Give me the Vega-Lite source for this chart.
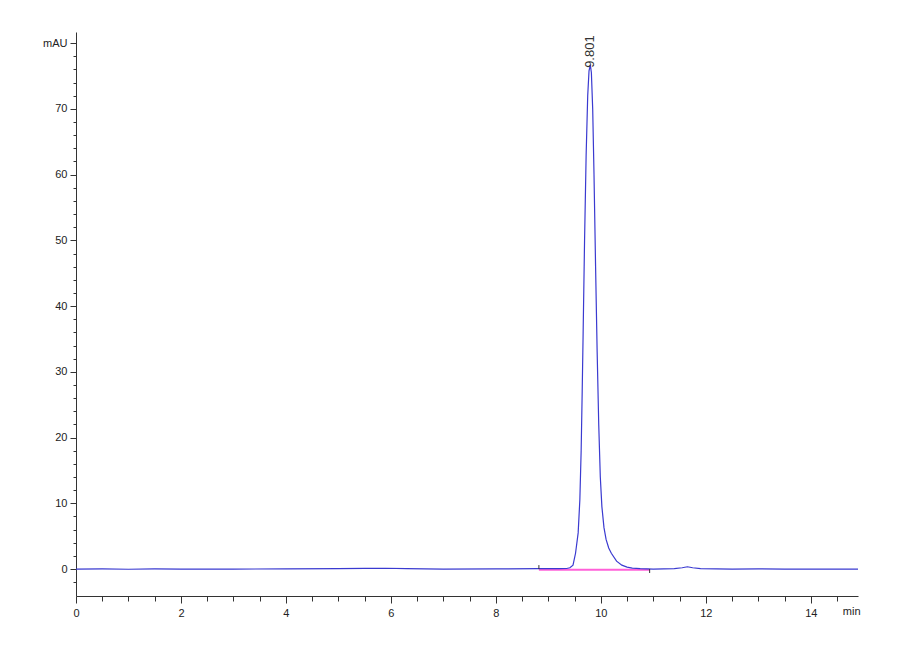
{
  "$schema": "https://vega.github.io/schema/vega-lite/v6.json",
  "description": "HPLC chromatogram with a single peak at 9.801 min.",
  "width": 782,
  "height": 564,
  "autosize": {"type": "none"},
  "padding": {"left": 76, "top": 32, "right": 42, "bottom": 64},
  "background": "white",
  "config": {
    "view": {"stroke": null},
    "axis": {
      "labelFont": "Liberation Sans",
      "labelFontSize": 11,
      "labelColor": "#222222",
      "domainColor": "#333333",
      "tickColor": "#333333",
      "grid": false,
      "title": null,
      "labelOverlap": false,
      "labelFlush": false
    }
  },
  "datasets": {
    "trace": [
      {"t": 0, "v": 0}, {"t": 0.5, "v": 0.02}, {"t": 1, "v": -0.03}, {"t": 1.5, "v": 0.02},
      {"t": 2, "v": 0}, {"t": 3, "v": 0}, {"t": 4, "v": 0.02}, {"t": 5, "v": 0.05},
      {"t": 5.5, "v": 0.1}, {"t": 5.9, "v": 0.12}, {"t": 6.3, "v": 0.05}, {"t": 7, "v": 0},
      {"t": 8, "v": 0.02}, {"t": 8.8, "v": 0.05}, {"t": 9.2, "v": 0.05}, {"t": 9.35, "v": 0.08},
      {"t": 9.41, "v": 0.2}, {"t": 9.47, "v": 0.6}, {"t": 9.518, "v": 2.4}, {"t": 9.568, "v": 5.5},
      {"t": 9.6, "v": 10.5}, {"t": 9.625, "v": 18}, {"t": 9.645, "v": 27}, {"t": 9.663, "v": 36},
      {"t": 9.69, "v": 50}, {"t": 9.72, "v": 63}, {"t": 9.75, "v": 72}, {"t": 9.775, "v": 75.8},
      {"t": 9.8, "v": 76.7}, {"t": 9.82, "v": 75.5}, {"t": 9.845, "v": 70}, {"t": 9.87, "v": 60},
      {"t": 9.9, "v": 46}, {"t": 9.93, "v": 33}, {"t": 9.96, "v": 22}, {"t": 9.99, "v": 14},
      {"t": 10.02, "v": 9.5}, {"t": 10.06, "v": 6.3}, {"t": 10.1, "v": 4.5}, {"t": 10.15, "v": 3.2},
      {"t": 10.2, "v": 2.4}, {"t": 10.3, "v": 1.2}, {"t": 10.4, "v": 0.6}, {"t": 10.5, "v": 0.3},
      {"t": 10.6, "v": 0.15}, {"t": 10.75, "v": 0.05}, {"t": 11, "v": 0}, {"t": 11.4, "v": 0.05},
      {"t": 11.55, "v": 0.2}, {"t": 11.65, "v": 0.35}, {"t": 11.75, "v": 0.2}, {"t": 11.9, "v": 0.05},
      {"t": 12.5, "v": 0}, {"t": 13, "v": 0.02}, {"t": 13.5, "v": 0}, {"t": 14, "v": 0}, {"t": 14.9, "v": 0}
    ],
    "baseline": [
      {"t": 8.82, "v": -0.1}, {"t": 10.93, "v": -0.1}
    ],
    "events": [
      {"t": 8.82, "v": 0, "v2": 0.6}, {"t": 10.93, "v": 0, "v2": -0.6}
    ],
    "peaks": [
      {"t": 9.801, "v": 76.7, "label": "9.801"}
    ]
  },
  "encoding": {
    "x": {
      "field": "t",
      "type": "quantitative",
      "scale": {"domain": [0, 14.9], "nice": false, "zero": false},
      "axis": {
        "orient": "bottom",
        "values": [0, 0.5, 1, 1.5, 2, 2.5, 3, 3.5, 4, 4.5, 5, 5.5, 6, 6.5, 7, 7.5, 8, 8.5, 9, 9.5, 10, 10.5, 11, 11.5, 12, 12.5, 13, 13.5, 14, 14.5, 14.77],
        "labelExpr": "datum.value > 14.6 ? 'min' : (datum.value % 2 === 0 ? format(datum.value, 'd') : '')",
        "tickSize": {"condition": {"test": "datum.value % 2 === 0", "value": 7}, "value": 5},
        "tickOpacity": {"condition": {"test": "datum.value > 14.6", "value": 0}, "value": 1},
        "labelPadding": 4
      }
    },
    "y": {
      "field": "v",
      "type": "quantitative",
      "scale": {"domain": [-4.1, 81.7], "nice": false, "zero": false},
      "axis": {
        "orient": "left",
        "values": [-2, 0, 2, 4, 6, 8, 10, 12, 14, 16, 18, 20, 22, 24, 26, 28, 30, 32, 34, 36, 38, 40, 42, 44, 46, 48, 50, 52, 54, 56, 58, 60, 62, 64, 66, 68, 70, 72, 74, 76, 78, 80],
        "labelExpr": "datum.value === 80 ? 'mAU' : (datum.value % 10 === 0 ? format(datum.value, 'd') : '')",
        "tickSize": {"condition": {"test": "datum.value % 10 === 0", "value": 6}, "value": 3},
        "labelPadding": 3
      }
    }
  },
  "layer": [
    {
      "data": {"name": "baseline"},
      "mark": {"type": "line", "color": "#ff60d8", "strokeWidth": 2}
    },
    {
      "data": {"name": "trace"},
      "mark": {"type": "line", "color": "#3a3ad0", "strokeWidth": 1.2}
    },
    {
      "data": {"name": "events"},
      "mark": {"type": "rule", "color": "#333333", "strokeWidth": 1},
      "encoding": {"y2": {"field": "v2"}}
    },
    {
      "data": {"name": "peaks"},
      "mark": {
        "type": "text",
        "angle": 270,
        "align": "left",
        "baseline": "middle",
        "dx": -3,
        "font": "Liberation Sans",
        "fontSize": 13,
        "color": "#333333"
      },
      "encoding": {"text": {"field": "label"}}
    }
  ]
}
